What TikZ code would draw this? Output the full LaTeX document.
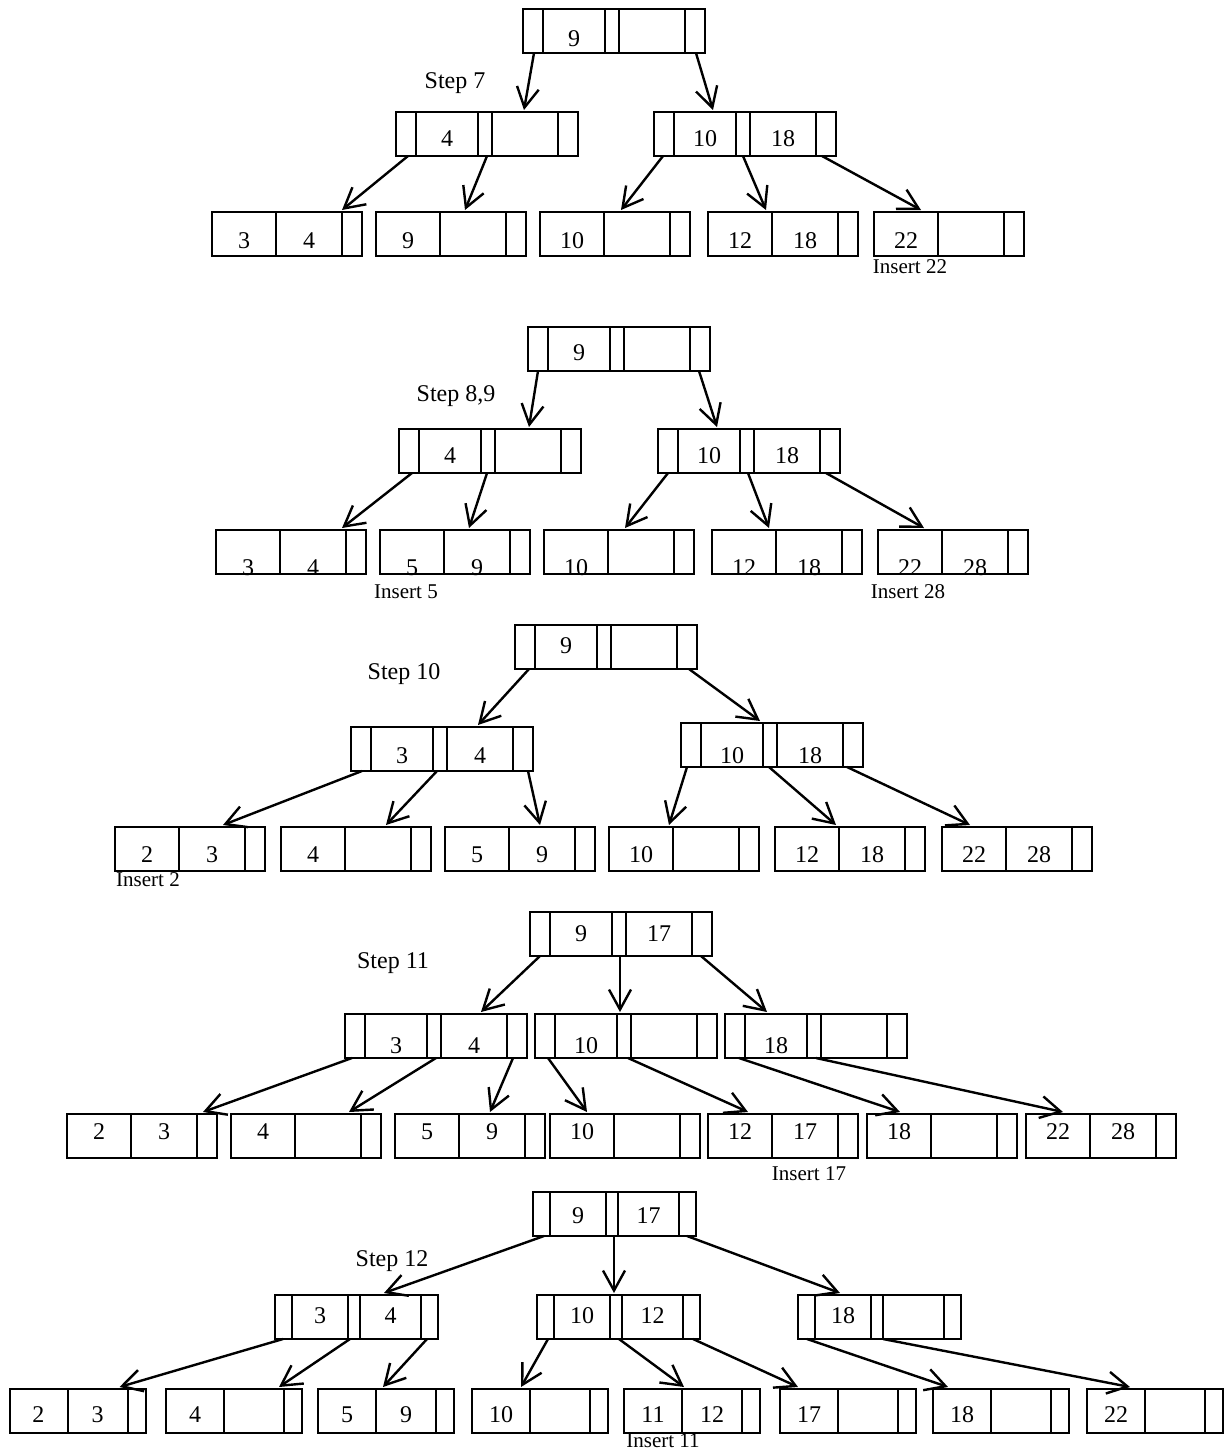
\documentclass[tikz,border=0pt]{standalone}
\usepackage{fontspec}
\setmainfont{Liberation Serif}
\usetikzlibrary{arrows.meta, positioning, calc}

\tikzset{
  cell/.style={draw, line width=1pt, minimum height=22pt, inner sep=0pt,
               outer sep=0pt, anchor=north west, text height=8.1pt,
               text depth=0pt, font=\fontsize{12}{14}\selectfont},
  ptrcell/.style={cell, minimum width=10pt},
  midcell/.style={cell, minimum width=7pt},
  keycell/.style={cell, minimum width=31pt},
  keycellb/.style={cell, minimum width=33pt},
  leafkey/.style={cell, minimum width=32pt},
  leafkeyb/.style={cell, minimum width=33pt},
  leafend/.style={cell, minimum width=10pt},
  ptr/.style={-{Straight Barb[length=10pt,width=11pt]}, line width=1.2pt},
  steplbl/.style={inner sep=0pt, font=\fontsize{12}{14}\selectfont},
  inslbl/.style={inner sep=0pt, font=\fontsize{10.5}{12}\selectfont}
}

% internal node: [raise of keys]{name}{x}{y}{left key}{right key}
\newcommand{\bnode}[6][0pt]{%
  \node[ptrcell] (#2) at (#3,#4) {};
  \node[keycell, right=0pt of #2] (#2-k1) {\raisebox{#1}{#5}};
  \node[midcell, right=0pt of #2-k1] (#2-p2) {};
  \node[keycellb, right=0pt of #2-p2] (#2-k2) {\raisebox{#1}{#6}};
  \node[ptrcell, right=0pt of #2-k2] (#2-p3) {};
}
% leaf node: [raise of keys]{name}{x}{y}{left key}{right key}
\newcommand{\bleaf}[6][0pt]{%
  \node[leafkey] (#2) at (#3,#4) {\raisebox{#1}{#5}};
  \node[leafkeyb, right=0pt of #2] (#2-k2) {\raisebox{#1}{#6}};
  \node[leafend, right=0pt of #2-k2] (#2-p) {};
}
% pointer: {parent}{offset along its bottom}{child}{offset along its top}
\newcommand{\bptr}[4]{%
  \draw[ptr] ($(#1.south west)+(#2,0)$) -- ($(#3.north west)+(#4,-2)$);
}

\begin{document}
\begin{tikzpicture}[x=0.5pt, y=-0.5pt]
\useasboundingbox (0,0) rectangle (1232,1452);

% --- Step 7
\node[steplbl] (s7) at (455,83) {Step 7};
\bnode[-3.75pt]{A0}{523}{9}{9}{}
\bnode[-2pt]{A1}{396}{112}{4}{}
\bnode[-2pt]{A2}{654}{112}{10}{18}
\bleaf[-3.35pt]{A1a}{212}{212}{3}{4}
\bleaf[-3.35pt]{A1b}{376}{212}{9}{}
\bleaf[-3.35pt]{A2a}{540}{212}{10}{}
\bleaf[-3.35pt]{A2b}{708}{212}{12}{18}
\bleaf[-3.35pt]{A2c}{874}{212}{22}{}
\node[inslbl] (i22) at (910,267) {Insert 22};
\bptr{A0}{11}{A1}{128}
\bptr{A0}{173}{A2}{59}
\bptr{A1}{12}{A1a}{130}
\bptr{A1}{91}{A1b}{89}
\bptr{A2}{9}{A2a}{81}
\bptr{A2}{89}{A2b}{58}
\bptr{A2}{168}{A2c}{47}

% --- Step 8,9
\node[steplbl] (s89) at (456,396) {Step 8,9};
\bnode[-1.5pt]{B0}{528}{327}{9}{}
\bnode[-2pt]{B1}{399}{429}{4}{}
\bnode[-2pt]{B2}{658}{429}{10}{18}
\bleaf[-7.75pt]{B1a}{216}{530}{3}{4}
\bleaf[-7.75pt]{B1b}{380}{530}{5}{9}
\bleaf[-7.75pt]{B2a}{544}{530}{10}{}
\bleaf[-7.75pt]{B2b}{712}{530}{12}{18}
\bleaf[-7.75pt]{B2c}{878}{530}{22}{28}
\node[inslbl] (i5) at (406,592) {Insert 5};
\node[inslbl] (i28) at (908,592) {Insert 28};
\bptr{B0}{10}{B1}{130}
\bptr{B0}{171}{B2}{59}
\bptr{B1}{13}{B1a}{126}
\bptr{B1}{88}{B1b}{89}
\bptr{B2}{10}{B2a}{81}
\bptr{B2}{90}{B2b}{57}
\bptr{B2}{168}{B2c}{46}

% --- Step 10
\node[steplbl] (s10) at (404,674) {Step 10};
\bnode[1pt]{C0}{515}{625}{9}{}
\bnode[-3.25pt]{C1}{351}{727}{3}{4}
\bnode[-5.25pt]{C2}{681}{723}{10}{18}
\bleaf[-2.5pt]{C1a}{115}{827}{2}{3}
\bleaf[-2.5pt]{C1b}{281}{827}{4}{}
\bleaf[-2.5pt]{C1c}{445}{827}{5}{9}
\bleaf[-2.5pt]{C2a}{609}{827}{10}{}
\bleaf[-2.5pt]{C2b}{775}{827}{12}{18}
\bleaf[-2.5pt]{C2c}{942}{827}{22}{28}
\node[inslbl] (i2) at (148,880) {Insert 2};
\bptr{C0}{14}{C1}{127}
\bptr{C0}{174}{C2}{79}
\bptr{C1}{11}{C1a}{108}
\bptr{C1}{86}{C1b}{105}
\bptr{C1}{177}{C1c}{95}
\bptr{C2}{6}{C2a}{60}
\bptr{C2}{88}{C2b}{61}
\bptr{C2}{166}{C2c}{28}

% --- Step 11
\node[steplbl] (s11) at (393,963) {Step 11};
\bnode[0.5pt]{D0}{530}{912}{9}{17}
\bnode[-4.5pt]{D1}{345}{1014}{3}{4}
\bnode[-4.5pt]{D2}{535}{1014}{10}{}
\bnode[-4.5pt]{D3}{725}{1014}{18}{}
\bleaf[2.25pt]{D1a}{67}{1114}{2}{3}
\bleaf[2.25pt]{D1b}{231}{1114}{4}{}
\bleaf[2.25pt]{D1c}{395}{1114}{5}{9}
\bleaf[2.25pt]{D2a}{550}{1114}{10}{}
\bleaf[2.25pt]{D2b}{708}{1114}{12}{17}
\bleaf[2.25pt]{D3a}{867}{1114}{18}{}
\bleaf[2.25pt]{D3b}{1026}{1114}{22}{28}
\node[inslbl] (i17) at (809,1174) {Insert 17};
\bptr{D0}{10}{D1}{136}
\bptr{D0}{90}{D2}{85}
\bptr{D0}{171}{D3}{42}
\bptr{D1}{7}{D1a}{136}
\bptr{D1}{91}{D1b}{118}
\bptr{D1}{168}{D1c}{95}
\bptr{D2}{13}{D2a}{37}
\bptr{D2}{93}{D2b}{40}
\bptr{D3}{14}{D3a}{33}
\bptr{D3}{91}{D3b}{37}

% --- Step 12: the boxes of this tree are drawn a little narrower
\begin{scope}[ptrcell/.append style={minimum width=8.5pt},
              midcell/.append style={minimum width=6pt},
              keycell/.append style={minimum width=28pt},
              keycellb/.append style={minimum width=30.5pt},
              leafkey/.append style={minimum width=29pt},
              leafkeyb/.append style={minimum width=30pt},
              leafend/.append style={minimum width=9pt}]
\node[steplbl] (s12) at (392,1261) {Step 12};
\bnode[-0.5pt]{E0}{533}{1192}{9}{17}
\bnode[0.75pt]{E1}{275}{1295}{3}{4}
\bnode[0.75pt]{E2}{537}{1295}{10}{12}
\bnode[0.75pt]{E3}{798}{1295}{18}{}
\bleaf[-1.75pt]{E1a}{9.5}{1389}{2}{3}
\bleaf[-1.75pt]{E1b}{166}{1389}{4}{}
\bleaf[-1.75pt]{E1c}{318}{1389}{5}{9}
\bleaf[-1.75pt]{E2a}{472}{1389}{10}{}
\bleaf[-1.75pt]{E2b}{624}{1389}{11}{12}
\bleaf[-1.75pt]{E2c}{780}{1389}{17}{}
\bleaf[-1.75pt]{E3a}{933}{1389}{18}{}
\bleaf[-1.75pt]{E3b}{1087}{1389}{22}{}
\node[inslbl] (i11) at (663,1441) {Insert 11};
\bptr{E0}{11}{E1}{109}
\bptr{E0}{81}{E2}{77}
\bptr{E0}{154}{E3}{42}
\bptr{E1}{8}{E1a}{110}
\bptr{E1}{75}{E1b}{113}
\bptr{E1}{152}{E1c}{65}
\bptr{E2}{11}{E2a}{49}
\bptr{E2}{82}{E2b}{60}
\bptr{E2}{156}{E2c}{18}
\bptr{E3}{9}{E3a}{15}
\bptr{E3}{85}{E3b}{43}
\end{scope}

\end{tikzpicture}
\end{document}
